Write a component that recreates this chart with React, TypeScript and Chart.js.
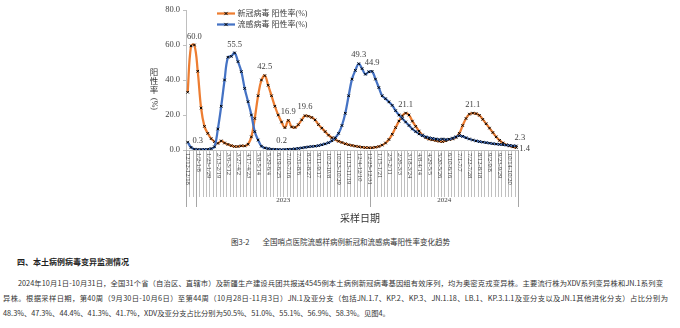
import React, { useEffect, useRef } from "react";
import { Chart, registerables } from "chart.js";

Chart.register(...registerables);

// ---------- data ----------
const weeks = [
  "12/12-12/18", "12/19-12/25", "12/26-1/1",
  "1/2-1/8", "1/9-1/15", "1/16-1/22", "1/23-1/29", "1/30-2/5", "2/6-2/12", "2/13-2/19", "2/20-2/26", "2/27-3/5",
  "3/6-3/12", "3/13-3/19", "3/20-3/26", "3/27-4/2", "4/3-4/9", "4/10-4/16", "4/17-4/23", "4/24-4/30",
  "5/1-5/7", "5/8-5/14", "5/15-5/21", "5/22-5/28", "5/29-6/4", "6/5-6/11", "6/12-6/18", "6/19-6/25", "6/26-7/2",
  "7/3-7/9", "7/10-7/16", "7/17-7/23", "7/24-7/30", "7/31-8/6", "8/7-8/13", "8/14-8/20", "8/21-8/27", "8/28-9/3",
  "9/4-9/10", "9/11-9/17", "9/18-9/24", "9/25-10/1", "10/2-10/8", "10/9-10/15", "10/16-10/22", "10/23-10/29",
  "10/30-11/5", "11/6-11/12", "11/13-11/19", "11/20-11/26", "11/27-12/3", "12/4-12/10", "12/11-12/17",
  "12/18-12/24", "12/25-12/31",
  "1/1-1/7", "1/8-1/14", "1/15-1/21", "1/22-1/28", "1/29-2/4", "2/5-2/11", "2/12-2/18", "2/19-2/25", "2/26-3/3",
  "3/4-3/10", "3/11-3/17", "3/18-3/24", "3/25-3/31", "4/1-4/7", "4/8-4/14", "4/15-4/21", "4/22-4/28", "4/29-5/5",
  "5/6-5/12", "5/13-5/19", "5/20-5/26", "5/27-6/2", "6/3-6/9", "6/10-6/16", "6/17-6/23", "6/24-6/30", "7/1-7/7",
  "7/8-7/14", "7/15-7/21", "7/22-7/28", "7/29-8/4", "8/5-8/11", "8/12-8/18", "8/19-8/25", "8/26-9/1", "9/2-9/8",
  "9/9-9/15", "9/16-9/22", "9/23-9/29", "9/30-10/6", "10/7-10/13", "10/14-10/20", "10/21-10/27", "10/28-11/3",
];

const covidRate = [
  33, 59.5, 60.0, 45, 24, 13.5, 9.5, 6.5, 4.8, 3.8,
  5.2, 4.0, 3.2, 2.5, 2.0, 2.0, 2.4, 2.3, 3.3, 7.5,
  18, 31, 40, 42.5, 37, 31, 25, 20, 16, 12.8,
  16.9, 13.2, 12.9, 14.5, 17.2, 19.6, 19.3, 18.6, 17.2, 14.5,
  12.5, 10.5, 8.5, 7.0, 6.0, 5.0, 4.3, 3.6, 3.0, 2.6,
  2.2, 1.9, 1.6, 1.4, 1.3, 1.3, 1.6, 2.0, 2.8, 4.0,
  6.0, 9.0, 12.8, 16.5, 19.5, 21.1, 20.0, 16.5, 13.5, 10.8,
  8.6, 7.0, 6.2, 5.8, 5.4, 5.0, 4.8, 5.3, 6.0, 6.3,
  7.2, 9.5, 14, 18, 20.5, 21.1, 20.8, 19.8, 17.5, 15,
  12.5, 10, 7.5, 5.5, 4.0, 3.0, 2.3, 1.8, 1.4,
];

const fluRate = [
  4.5, 1.5, 0.5, 0.3, 0.3, 0.3, 0.4, 0.8, 1.8, 12,
  25, 40, 53, 53.5, 55.5, 50.5, 44.8, 35.2, 27.6, 20,
  10.5, 5.7, 2.2, 1.2, 0.8, 0.5, 0.4, 0.3, 0.2, 0.3,
  0.4, 0.5, 0.7, 0.9, 1.2, 1.5, 1.8, 2.0, 2.2, 2.5,
  3.0, 3.5, 4.2, 5.3, 7.0, 9.5, 14, 21, 31, 40.5,
  45.5, 49.3, 46.5, 43.3, 44.7, 44.9, 40.5, 35.7, 31, 29.3,
  27.5, 25.5, 22.5, 20, 18, 16, 14, 12, 10.5, 9.2,
  8.2, 7.5, 7.0, 6.6, 6.3, 6.0, 6.3, 6.0, 6.2, 6.8,
  7.5, 8.2, 7.8, 7.0, 6.3, 5.7, 5.2, 4.8, 4.5, 4.2,
  3.9, 3.6, 3.4, 3.2, 3.0, 2.8, 2.6, 2.4, 2.3,
];

const yearLabels = ["", "2023", "2024"];
const yearWeekCounts = [3, 52, 44];
const tickEvery = 3;
const covidLabelIdx = [2, 23, 30, 35, 65, 85, 98];
const fluLabelIdx = [3, 14, 28, 51, 55, 98];
const seriesNames = ["新冠病毒 阳性率(%)", "流感病毒 阳性率(%)"];
const seriesColors = ["#ED7D31", "#4472C4"];
const yAxisTitleChars = ["阳", "性", "率"];
const xAxisTitle = "采样日期";

const SERIF = '"Liberation Serif", "Noto Sans CJK SC", serif';
const CJK = '"Noto Sans CJK SC", sans-serif';
const TXT = "#404040";

const drawCross = (ctx: CanvasRenderingContext2D, x: number, y: number, r: number) => {
  ctx.beginPath();
  ctx.moveTo(x - r, y - r);
  ctx.lineTo(x + r, y + r);
  ctx.moveTo(x + r, y - r);
  ctx.lineTo(x - r, y + r);
  ctx.stroke();
};

const customPlugin = {
  id: "customDecor",
  afterDraw(chart: any) {
    const ctx: CanvasRenderingContext2D = chart.ctx;
    const a = chart.chartArea;
    const xs = chart.scales.x;
    const n = weeks.length;
    const c0 = xs.getPixelForValue(0);
    const step = xs.getPixelForValue(1) - c0;
    const edge = (i: number) => c0 + (i - 0.5) * step;

    ctx.save();
    // category separators
    ctx.strokeStyle = "#c0c0c0";
    ctx.lineWidth = 1;
    ctx.beginPath();
    for (let i = 0; i <= n; i++) {
      const px = Math.round(edge(i)) + 0.5;
      ctx.moveTo(px, a.bottom);
      ctx.lineTo(px, a.bottom + 47);
    }
    ctx.stroke();
    // year separators
    const bounds = [0];
    let cum = 0;
    yearWeekCounts.forEach((c) => {
      cum += c;
      bounds.push(cum);
    });
    ctx.strokeStyle = "#a6a6a6";
    ctx.beginPath();
    bounds.forEach((b) => {
      const px = Math.round(edge(b)) + 0.5;
      ctx.moveTo(px, a.bottom);
      ctx.lineTo(px, a.bottom + 57);
    });
    ctx.stroke();

    // category labels (rotated)
    ctx.fillStyle = TXT;
    ctx.font = `6.5px ${SERIF}`;
    ctx.textAlign = "left";
    ctx.textBaseline = "middle";
    weeks.forEach((w, i) => {
      if (i % tickEvery !== 0) return;
      const px = xs.getPixelForValue(i);
      ctx.save();
      ctx.translate(px + 0.5, a.bottom + 3);
      ctx.rotate(Math.PI / 2);
      ctx.fillText(w, 0, 0);
      ctx.restore();
    });

    // year labels
    ctx.font = `7px ${SERIF}`;
    ctx.textAlign = "center";
    yearLabels.forEach((y, k) => {
      if (!y) return;
      const mid = (edge(bounds[k]) + edge(bounds[k + 1])) / 2;
      ctx.fillText(y, mid, a.bottom + 50);
    });

    // x axis title
    ctx.font = `10px ${CJK}`;
    ctx.fillStyle = "#333";
    ctx.fillText(xAxisTitle, (a.left + a.right) / 2 + 8, a.bottom + 68);

    // y axis title (stacked)
    ctx.font = `8.5px ${CJK}`;
    ctx.fillStyle = "#333";
    yAxisTitleChars.forEach((ch, k) => {
      ctx.fillText(ch, a.left - 32, 72 + k * 8.7);
    });
    ctx.save();
    ctx.translate(a.left - 32, 104);
    ctx.rotate(Math.PI / 2);
    ctx.font = `8px ${SERIF}`;
    ctx.fillText("(%)", 0, 0);
    ctx.restore();

    // legend
    seriesNames.forEach((name, k) => {
      const y = 13.5 + k * 11;
      ctx.strokeStyle = seriesColors[k];
      ctx.lineWidth = 2.25;
      ctx.beginPath();
      ctx.moveTo(217, y);
      ctx.lineTo(235, y);
      ctx.stroke();
      ctx.strokeStyle = "#000";
      ctx.lineWidth = 1;
      drawCross(ctx, 226, y, 1.6);
      ctx.fillStyle = TXT;
      ctx.font = `8px ${SERIF}`;
      ctx.textAlign = "left";
      ctx.textBaseline = "middle";
      ctx.fillText(name, 237.5, y + 0.5);
    });

    // data labels
    ctx.font = `8.5px ${SERIF}`;
    ctx.fillStyle = TXT;
    ctx.textBaseline = "middle";
    const label = (ds: number, idx: number, vals: number[]) => {
      const el = chart.getDatasetMeta(ds).data[idx];
      if (!el) return;
      const txt = vals[idx].toFixed(1);
      if (ds === 0 && idx === n - 1) {
        ctx.textAlign = "left";
        ctx.fillText(txt, el.x + 3, el.y + 1.5);
      } else if (idx === n - 1) {
        ctx.textAlign = "center";
        ctx.fillText(txt, el.x + 3.5, el.y - 8);
      } else {
        ctx.textAlign = "center";
        ctx.fillText(txt, el.x, el.y - 8.5);
      }
    };
    covidLabelIdx.forEach((i) => label(0, i, covidRate));
    fluLabelIdx.forEach((i) => label(1, i, fluRate));
    ctx.restore();
  },
};

function ChartBox() {
  const ref = useRef<HTMLCanvasElement | null>(null);
  useEffect(() => {
    if (!ref.current) return;
    const chart = new Chart(ref.current, {
      type: "line",
      data: {
        labels: weeks,
        datasets: [
          {
            label: seriesNames[0],
            data: covidRate,
            borderColor: seriesColors[0],
            backgroundColor: seriesColors[0],
            borderWidth: 2.25,
            pointStyle: "crossRot",
            pointRadius: 1.8,
            pointBorderColor: "#000",
            pointBorderWidth: 1,
            tension: 0.4,
            order: 1,
          },
          {
            label: seriesNames[1],
            data: fluRate,
            borderColor: seriesColors[1],
            backgroundColor: seriesColors[1],
            borderWidth: 2.25,
            pointStyle: "crossRot",
            pointRadius: 1.8,
            pointBorderColor: "#000",
            pointBorderWidth: 1,
            tension: 0.4,
            order: 0,
          },
        ],
      },
      options: {
        animation: false,
        responsive: false,
        maintainAspectRatio: false,
        events: [],
        layout: { padding: { left: 156, right: 162, top: 10, bottom: 80 } },
        plugins: { legend: { display: false }, tooltip: { enabled: false } },
        scales: {
          x: {
            type: "category",
            offset: true,
            grid: { display: false },
            ticks: { display: false },
            border: { display: true, color: "#bfbfbf", width: 1 },
            afterFit: (s: any) => {
              s.height = 0;
            },
          },
          y: {
            min: 0,
            max: 80,
            ticks: {
              stepSize: 20,
              callback: (v: any) => Number(v).toFixed(1),
              font: { family: SERIF, size: 8.5 },
              color: TXT,
              padding: 3,
            },
            grid: { drawOnChartArea: false, drawTicks: true, tickLength: 3, color: "#bfbfbf" },
            border: { display: true, color: "#bfbfbf", width: 1 },
            afterFit: (s: any) => {
              s.width = 30;
            },
          },
        },
      },
      plugins: [customPlugin],
    } as any);
    return () => chart.destroy();
  }, []);
  return (
    <canvas
      ref={ref}
      width={680}
      height={230}
      style={{ position: "absolute", left: 0, top: 0, width: 680, height: 230, display: "block" }}
    />
  );
}

const caption = ["图3-2", "全国哨点医院流感样病例新冠和流感病毒阳性率变化趋势"];
const heading = "四、本土病例病毒变异监测情况";
const paraLines = [
  "2024年10月1日-10月31日，全国31个省（自治区、直辖市）及新疆生产建设兵团共报送4545例本土病例新冠病毒基因组有效序列，均为奥密克戎变异株。主要流行株为XDV系列变异株和JN.1系列变",
  "异株。根据采样日期，第40周（9月30日-10月6日）至第44周（10月28日-11月3日）JN.1及亚分支（包括JN.1.7、KP.2、KP.3、JN.1.18、LB.1、KP.3.1.1及亚分支以及JN.1其他进化分支）占比分别为",
  "48.3%、47.3%、44.4%、41.3%、41.7%，XDV及亚分支占比分别为50.5%、51.0%、55.1%、56.9%、58.3%。见图4。",
];

export default function App() {
  const lineStyle = (top: number, left: number, width: number | undefined, justify: boolean): React.CSSProperties => ({
    position: "absolute",
    top,
    left,
    width,
    fontSize: 7.3,
    lineHeight: "12px",
    fontFamily: CJK,
    color: "#333",
    whiteSpace: "nowrap",
    textAlign: justify ? "justify" : "left",
    textAlignLast: justify ? "justify" : "left",
  });
  return (
    <div
      style={{
        position: "fixed",
        left: 0,
        top: 0,
        width: 680,
        height: 328,
        background: "#fff",
        overflow: "hidden",
      }}
    >
      <ChartBox />
      <div
        style={{
          position: "absolute",
          left: 231,
          top: 236,
          fontSize: 7.5,
          lineHeight: "11px",
          fontFamily: CJK,
          color: "#333",
          whiteSpace: "nowrap",
        }}
      >
        {caption[0]}
        <span style={{ display: "inline-block", width: 13 }} />
        {caption[1]}
      </div>
      <div
        style={{
          position: "absolute",
          left: 17,
          top: 256,
          fontSize: 8,
          fontWeight: "bold",
          lineHeight: "12px",
          fontFamily: CJK,
          color: "#222",
          whiteSpace: "nowrap",
        }}
      >
        {heading}
      </div>
      <div style={lineStyle(277, 18, 645, true)}>{paraLines[0]}</div>
      <div style={lineStyle(292, 3, 665, true)}>{paraLines[1]}</div>
      <div style={lineStyle(307, 3, undefined, false)}>{paraLines[2]}</div>
    </div>
  );
}
